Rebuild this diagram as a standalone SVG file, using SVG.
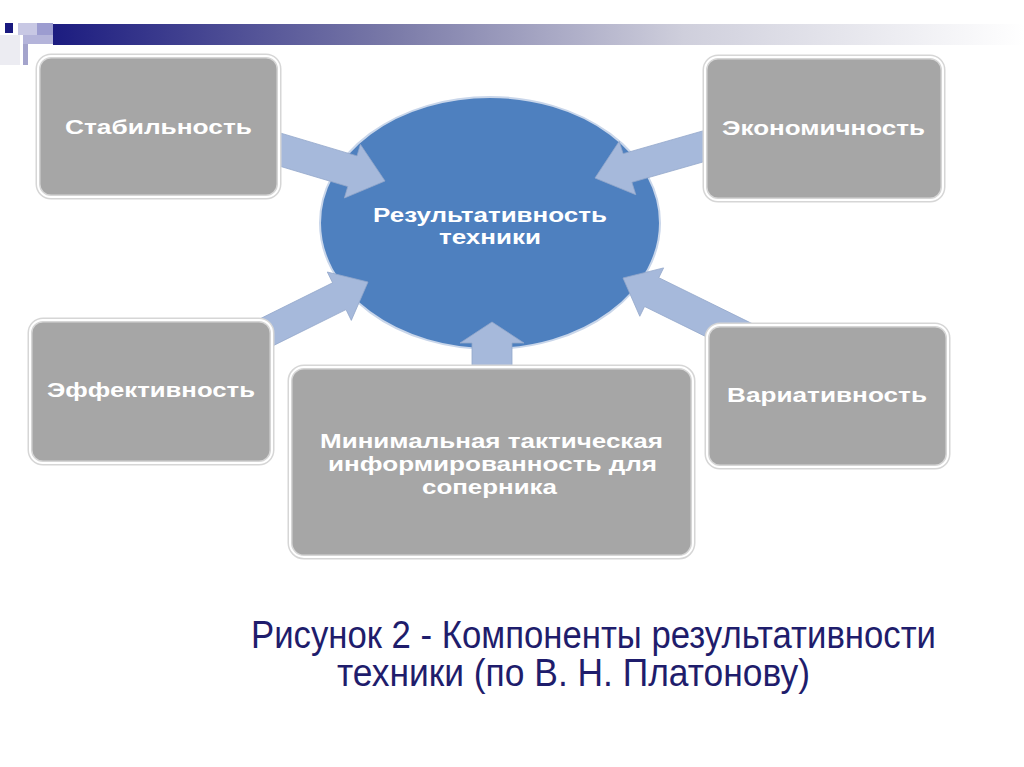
<svg xmlns="http://www.w3.org/2000/svg" width="1024" height="767" viewBox="0 0 1024 767">
  <defs>
    <linearGradient id="bar" x1="0" y1="0" x2="1" y2="0">
      <stop offset="0" stop-color="#1c1c80"/>
      <stop offset="0.35" stop-color="#7a7aa8"/>
      <stop offset="0.65" stop-color="#cfcfdc"/>
      <stop offset="1" stop-color="#ffffff"/>
    </linearGradient>
    <style>
      .box { fill: #a6a6a6; stroke: #d6d6d6; stroke-width: 5; }
      .boxin { fill: none; stroke: #ffffff; stroke-width: 2; }
      .lbl { font-family: "Liberation Sans", Arial, sans-serif; font-weight: bold; font-size: 20px; fill: #ffffff; text-anchor: middle; }
      .arrow { fill: #a6b9db; stroke: #93a7ca; stroke-width: 0.8; }
      .cap { font-family: "Liberation Sans", Arial, sans-serif; font-size: 38px; fill: #1f1d6c; }
    </style>
  </defs>
  <rect width="1024" height="767" fill="#ffffff"/>

  <g id="header">
    <rect x="0" y="35" width="20" height="30" fill="#ececf2"/>
    <rect x="53" y="24" width="971" height="21" fill="url(#bar)"/>
    <rect x="5" y="23" width="8" height="10" fill="#1a1a80"/>
    <rect x="18" y="23" width="19" height="12" fill="#c8c8e4"/>
    <rect x="37" y="23" width="16" height="12" fill="#9c9cd0"/>
    <rect x="23" y="35" width="30" height="9" fill="#b4b4da"/>
    <rect x="23" y="44" width="5" height="21" fill="#a4a4cc"/>
  </g>

  <g id="center">
    <ellipse cx="490" cy="223" rx="170" ry="126" fill="#4e80bf" stroke="#c9d6ea" stroke-width="2"/>
    <text class="lbl" x="490" y="222" textLength="234" lengthAdjust="spacingAndGlyphs">Результативность</text>
    <text class="lbl" x="490" y="244" textLength="102" lengthAdjust="spacingAndGlyphs">техники</text>
  </g>

  <g id="connectors">
    <polygon class="arrow" points="272.6,130.7 357.0,155.9 360.4,144.4 385,181 344.4,198.0 347.8,186.5 263.4,161.3"/>
    <polygon class="arrow" points="710.6,128.7 623.1,153.7 619.2,141.3 595,178 635.8,194.7 631.9,182.3 719.4,157.3"/>
    <polygon class="arrow" points="248.3,324.6 332.6,282.8 327.3,272.0 368,282 351.3,320.4 346.0,309.6 261.7,351.4"/>
    <polygon class="arrow" points="752.1,323.6 658.8,277.7 663.6,267.9 623,278 639.8,316.3 644.6,306.5 737.9,352.4"/>
    <polygon class="arrow" points="472,375 472,343 460,343 492,322 524,343 512,343 512,375"/>
  </g>

  <g id="stability">
    <rect class="box" x="38" y="56" width="241" height="141" rx="13"/>
    <rect class="boxin" x="38" y="56" width="241" height="141" rx="13"/>
    <text class="lbl" x="158.5" y="134" textLength="187" lengthAdjust="spacingAndGlyphs">Стабильность</text>
  </g>

  <g id="economy">
    <rect class="box" x="705" y="57" width="238" height="143" rx="13"/>
    <rect class="boxin" x="705" y="57" width="238" height="143" rx="13"/>
    <text class="lbl" x="823.5" y="135" textLength="203" lengthAdjust="spacingAndGlyphs">Экономичность</text>
  </g>

  <g id="efficiency">
    <rect class="box" x="30" y="320" width="242" height="143" rx="13"/>
    <rect class="boxin" x="30" y="320" width="242" height="143" rx="13"/>
    <text class="lbl" x="151" y="397" textLength="208" lengthAdjust="spacingAndGlyphs">Эффективность</text>
  </g>

  <g id="variability">
    <rect class="box" x="707" y="325" width="241" height="142" rx="13"/>
    <rect class="boxin" x="707" y="325" width="241" height="142" rx="13"/>
    <text class="lbl" x="827" y="402" textLength="200" lengthAdjust="spacingAndGlyphs">Вариативность</text>
  </g>

  <g id="minimal">
    <rect class="box" x="290" y="367" width="403" height="190" rx="14"/>
    <rect class="boxin" x="290" y="367" width="403" height="190" rx="14"/>
    <text class="lbl" x="491.5" y="448" textLength="343" lengthAdjust="spacingAndGlyphs">Минимальная тактическая</text>
    <text class="lbl" x="492.5" y="471" textLength="329" lengthAdjust="spacingAndGlyphs">информированность для</text>
    <text class="lbl" x="489.5" y="494" textLength="135" lengthAdjust="spacingAndGlyphs">соперника</text>
  </g>

  <g id="caption">
    <text class="cap" x="251" y="648" textLength="685" lengthAdjust="spacingAndGlyphs">Рисунок 2 - Компоненты результативности</text>
    <text class="cap" x="337" y="686" textLength="473" lengthAdjust="spacingAndGlyphs">техники (по В. Н. Платонову)</text>
  </g>
</svg>
